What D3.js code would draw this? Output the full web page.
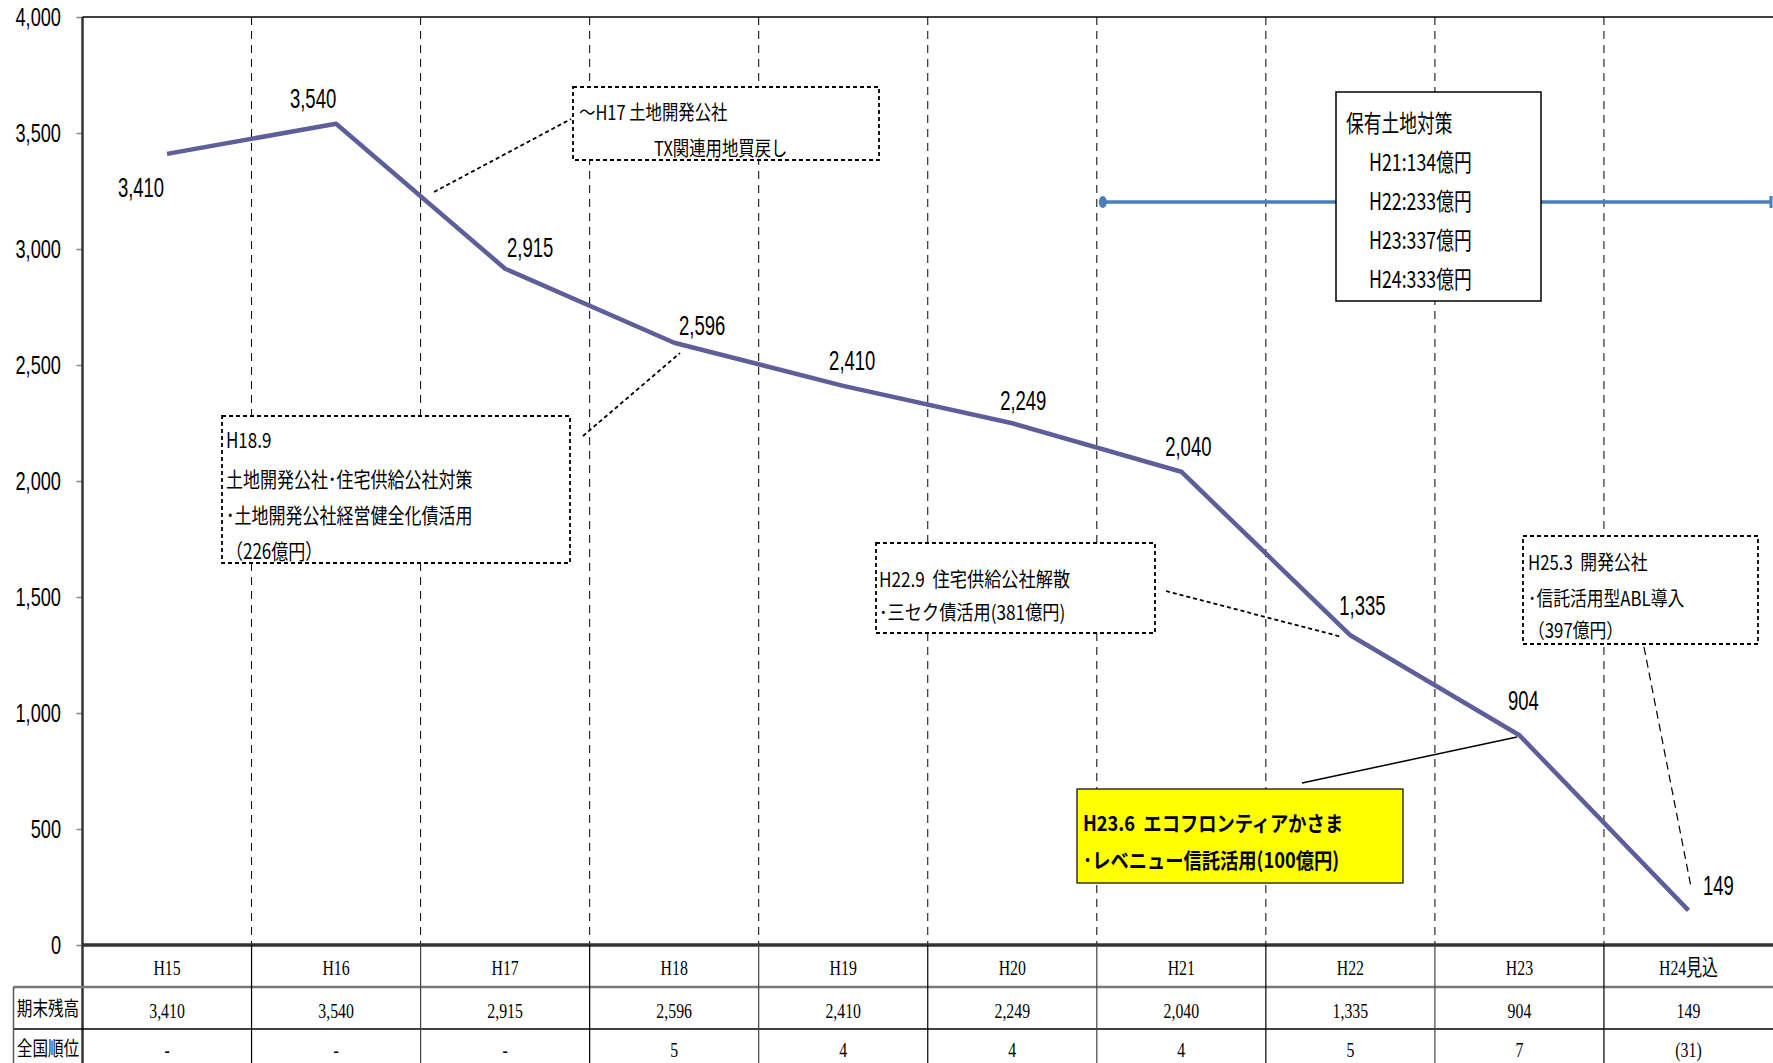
<!DOCTYPE html>
<html>
<head>
<meta charset="utf-8">
<script src="https://cdn.jsdelivr.net/npm/d3@7"></script>
<style>
    body { margin: 0; background: #fff; }
    svg { display: block; }
    .jp { font-family: "Noto Sans CJK JP", sans-serif; }
    .num { font-family: "Liberation Sans", "DejaVu Sans", sans-serif; }
    .tbl { font-family: "Liberation Serif", "DejaVu Serif", "Noto Sans CJK JP", serif; }
</style>
</head>
<body>
<div id="chart"></div>
<script>
//data
var years = ["H15", "H16", "H17", "H18", "H19", "H20", "H21", "H22", "H23", "H24見込"];
var balances = [3410, 3540, 2915, 2596, 2410, 2249, 2040, 1335, 904, 149];
var ranks = ["-", "-", "-", "5", "4", "4", "4", "5", "7", "(31)"];
var yTicks = [0, 500, 1000, 1500, 2000, 2500, 3000, 3500, 4000];
var rowLabels = ["期末残高", "全国順位"];

//annotation texts
var noteTX = ["～H17 土地開発公社", "TX関連用地買戻し"];
var noteH18 = ["H18.9", "土地開発公社･住宅供給公社対策", "･土地開発公社経営健全化債活用", "（226億円）"];
var noteLand = ["保有土地対策", "H21:134億円", "H22:233億円", "H23:337億円", "H24:333億円"];
var noteH22 = ["H22.9  住宅供給公社解散", "･三セク債活用(381億円)"];
var noteH23 = ["H23.6  エコフロンティアかさま", "･レベニュー信託活用(100億円)"];
var noteH25 = ["H25.3  開発公社", "･信託活用型ABL導入", "（397億円）"];

//layout
var width = 1773;
var height = 1063;
var plotLeft = 82.5, plotTop = 17, plotBottom = 945;
var rowY = [945, 987, 1029, 1075];
var labelOffsets = [[-26, 43], [-23, -16], [25, -12], [28, -8], [9, -16],
                    [11, -13], [7, -16], [12, -20], [4, -25], [30, -15]];

var data = years.map(function(d, i) { return { year: d, value: balances[i] }; });

var svg = d3.select("#chart").append("svg")
    .attr("width", width)
    .attr("height", height);

var x = d3.scaleBand().domain(years).range([plotLeft, width]);
var y = d3.scaleLinear().domain([0, 4000]).range([plotBottom, plotTop]);
var cx = function(d) { return x(d) + x.bandwidth() / 2; };

//draws a horizontally squeezed text, like the narrow fonts of the original
function sText(g, tx, ty, str, size, sx, anchor, cls) {
    return g.append("text")
        .attr("class", cls)
        .attr("transform", "translate(" + tx + "," + ty + ") scale(" + sx + ",1)")
        .attr("text-anchor", anchor || "start")
        .style("font-size", size + "px")
        .style("fill", "#000")
        .text(str);
}

//dashed grid lines between the years
svg.selectAll(".grid")
    .data(years.slice(1))
    .enter()
    .append("line")
    .attr("class", "grid")
    .attr("x1", function(d) { return x(d); })
    .attr("x2", function(d) { return x(d); })
    .attr("y1", plotTop)
    .attr("y2", plotBottom)
    .style("stroke", "#000")
    .style("stroke-width", 1)
    .style("stroke-dasharray", "8,6");

//y axis
var yAxis = d3.axisLeft(y).tickValues(yTicks).tickSize(6).tickFormat("");
var ay = svg.append("g").attr("transform", "translate(" + plotLeft + ",0)").call(yAxis);
ay.select(".domain").remove();
ay.selectAll(".tick line").style("stroke", "#888").style("stroke-width", 1.5);

yTicks.forEach(function(t) {
    sText(svg, 61, y(t) + 9, d3.format(",")(t), 26, 0.7, "end", "num");
});

svg.append("line")
    .attr("x1", plotLeft).attr("x2", plotLeft)
    .attr("y1", plotTop).attr("y2", rowY[3])
    .style("stroke", "#333").style("stroke-width", 2.5);
svg.append("line")
    .attr("x1", plotLeft).attr("x2", width)
    .attr("y1", plotTop).attr("y2", plotTop)
    .style("stroke", "#000").style("stroke-width", 1.5);

//leader lines
var leaders = [
    { p: [[434, 192], [571, 119]], dash: "4,3", w: 1.8 },
    { p: [[583, 436], [680, 353]], dash: "4,3", w: 1.8 },
    { p: [[1166, 591], [1342, 637]], dash: "4,3", w: 1.8 },
    { p: [[1302, 783], [1517, 737]], dash: null, w: 1.5 },
    { p: [[1644, 647], [1691, 887]], dash: "8,5", w: 1.2 }
];
leaders.forEach(function(l) {
    svg.append("line")
        .attr("x1", l.p[0][0]).attr("y1", l.p[0][1])
        .attr("x2", l.p[1][0]).attr("y2", l.p[1][1])
        .style("stroke", "#000")
        .style("stroke-width", l.w)
        .style("stroke-dasharray", l.dash);
});

//blue range arrow for the land measures (H21 onward)
var arrowY = 202;
svg.append("line")
    .attr("x1", x(years[6]) + 6).attr("x2", width - 2)
    .attr("y1", arrowY).attr("y2", arrowY)
    .style("stroke", "#4a7ebb").style("stroke-width", 3.5);
svg.append("ellipse")
    .attr("cx", x(years[6]) + 6).attr("cy", arrowY)
    .attr("rx", 4).attr("ry", 6)
    .style("fill", "#4a7ebb");
svg.append("line")
    .attr("x1", width - 2).attr("x2", width - 2)
    .attr("y1", arrowY - 6).attr("y2", arrowY + 6)
    .style("stroke", "#4a7ebb").style("stroke-width", 3);

//the balance line
var line = d3.line()
    .x(function(d) { return cx(d.year); })
    .y(function(d) { return y(d.value); });

svg.append("path")
    .datum(data)
    .attr("d", line)
    .style("fill", "none")
    .style("stroke", "#5e5e9a")
    .style("stroke-width", 4.5)
    .style("stroke-linejoin", "round");

//value labels
data.forEach(function(d, i) {
    sText(svg, cx(d.year) + labelOffsets[i][0], y(d.value) + labelOffsets[i][1],
          d3.format(",")(d.value), 28, 0.66, "middle", "num");
});

//note boxes
function noteBox(b) {
    var g = svg.append("g");
    g.append("rect")
        .attr("x", b.x).attr("y", b.y)
        .attr("width", b.w).attr("height", b.h)
        .style("fill", b.fill || "#fff")
        .style("stroke", "#000")
        .style("stroke-width", b.sw || 1.8)
        .style("stroke-dasharray", b.dash);
    b.lines.forEach(function(t, i) {
        var tx = b.tx[Math.min(i, b.tx.length - 1)];
        sText(g, tx, b.ty[i], t, b.size, b.sx, "start", "jp")
            .style("font-weight", b.bold ? "bold" : "normal")
            .style("white-space", "pre");
    });
}

noteBox({ x: 573, y: 87, w: 306, h: 73, dash: "4,3", lines: noteTX,
          tx: [579, 654], ty: [120, 156], size: 20, sx: 0.82 });
noteBox({ x: 222, y: 416, w: 348, h: 147, dash: "4,3", lines: noteH18,
          tx: [226], ty: [448, 487, 523, 559], size: 21, sx: 0.81 });
noteBox({ x: 1336, y: 92, w: 205, h: 209, dash: null, sw: 1.5, lines: noteLand,
          tx: [1346, 1369], ty: [132, 171, 210, 249, 288], size: 24, sx: 0.74 });
noteBox({ x: 876, y: 543, w: 279, h: 90, dash: "4,3", lines: noteH22,
          tx: [879], ty: [587, 620], size: 20, sx: 0.86 });
noteBox({ x: 1077, y: 789, w: 326, h: 94, dash: null, sw: 1.2, fill: "#ffff00",
          lines: noteH23, tx: [1083], ty: [831, 868], size: 21, sx: 0.87, bold: true });
noteBox({ x: 1523, y: 536, w: 235, h: 108, dash: "4,3", lines: noteH25,
          tx: [1528], ty: [570, 606, 638], size: 20, sx: 0.84 });

//data table under the chart
var tbl = svg.append("g");

tbl.append("line")
    .attr("x1", plotLeft).attr("x2", width)
    .attr("y1", plotBottom).attr("y2", plotBottom)
    .style("stroke", "#333").style("stroke-width", 3.5);
tbl.append("line")
    .attr("x1", 13.5).attr("x2", width)
    .attr("y1", rowY[1]).attr("y2", rowY[1])
    .style("stroke", "#777").style("stroke-width", 2.5);
tbl.append("line")
    .attr("x1", 13.5).attr("x2", width)
    .attr("y1", rowY[2]).attr("y2", rowY[2])
    .style("stroke", "#000").style("stroke-width", 1.5);
tbl.append("line")
    .attr("x1", 13.5).attr("x2", 13.5)
    .attr("y1", rowY[1]).attr("y2", rowY[3])
    .style("stroke", "#555").style("stroke-width", 1.5);

tbl.selectAll(".col")
    .data(years.slice(1))
    .enter()
    .append("line")
    .attr("class", "col")
    .attr("x1", function(d) { return x(d); })
    .attr("x2", function(d) { return x(d); })
    .attr("y1", plotBottom)
    .attr("y2", rowY[3])
    .style("stroke", function(d, i) { return i % 2 ? "#444" : "#000"; })
    .style("stroke-width", 1.2);

years.forEach(function(d, i) {
    sText(tbl, cx(d), 975, d, 22, 0.72, "middle", "tbl");
    sText(tbl, cx(d), 1018, d3.format(",")(balances[i]), 22, 0.72, "middle", "tbl");
    sText(tbl, cx(d), 1057, ranks[i], 22, 0.72, "middle", "tbl");
});

rowLabels.forEach(function(t, i) {
    sText(tbl, 48, [1016, 1056][i], t, 20, 0.78, "middle", "jp");
});
</script>
</body>
</html>
